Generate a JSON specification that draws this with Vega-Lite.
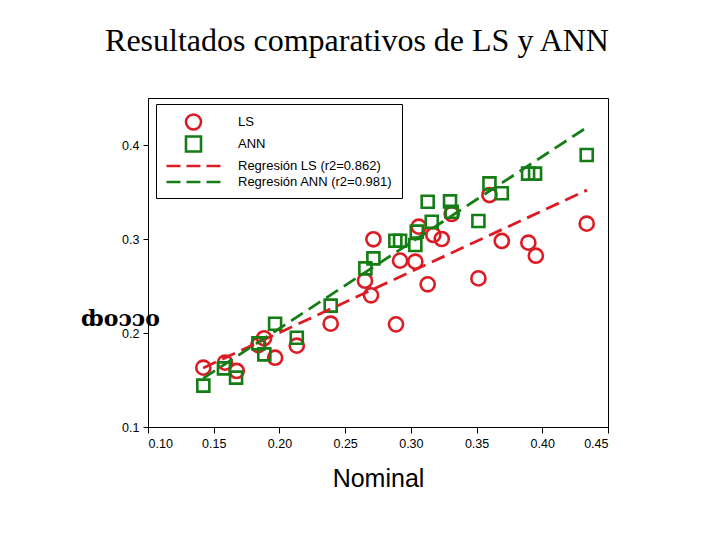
{
  "$schema": "https://vega.github.io/schema/vega-lite/v6.json",
  "width": 460,
  "height": 329,
  "autosize": "none",
  "padding": {"left": 148, "top": 98, "right": 112, "bottom": 113},
  "background": "white",
  "title": {
    "text": "Resultados comparativos de LS y ANN",
    "font": "Liberation Serif",
    "fontSize": 32,
    "fontWeight": "normal",
    "color": "black",
    "anchor": "middle",
    "dx": -21,
    "baseline": "alphabetic",
    "offset": 15
  },
  "config": {
    "view": {"stroke": "black", "strokeWidth": 1},
    "axis": {
      "grid": false,
      "domainColor": "black",
      "tickColor": "black",
      "labelColor": "black",
      "titleColor": "black",
      "labelFont": "Liberation Sans",
      "titleFont": "Liberation Sans",
      "labelFontSize": 12.5,
      "tickSize": 6
    }
  },
  "datasets": {
    "puntos": [
      {"serie": "LS", "nominal": 0.1421, "estimado": 0.1631},
      {"serie": "LS", "nominal": 0.1586, "estimado": 0.1684},
      {"serie": "LS", "nominal": 0.1675, "estimado": 0.1596},
      {"serie": "LS", "nominal": 0.1840, "estimado": 0.1872},
      {"serie": "LS", "nominal": 0.1883, "estimado": 0.1944},
      {"serie": "LS", "nominal": 0.1967, "estimado": 0.1737},
      {"serie": "LS", "nominal": 0.2132, "estimado": 0.1865},
      {"serie": "LS", "nominal": 0.2390, "estimado": 0.2099},
      {"serie": "LS", "nominal": 0.2651, "estimado": 0.2556},
      {"serie": "LS", "nominal": 0.2697, "estimado": 0.2401},
      {"serie": "LS", "nominal": 0.2715, "estimado": 0.2997},
      {"serie": "LS", "nominal": 0.2887, "estimado": 0.2092},
      {"serie": "LS", "nominal": 0.2918, "estimado": 0.2770},
      {"serie": "LS", "nominal": 0.3034, "estimado": 0.2759},
      {"serie": "LS", "nominal": 0.3060, "estimado": 0.3131},
      {"serie": "LS", "nominal": 0.3128, "estimado": 0.2518},
      {"serie": "LS", "nominal": 0.3171, "estimado": 0.3043},
      {"serie": "LS", "nominal": 0.3235, "estimado": 0.3000},
      {"serie": "LS", "nominal": 0.3311, "estimado": 0.3266},
      {"serie": "LS", "nominal": 0.3514, "estimado": 0.2581},
      {"serie": "LS", "nominal": 0.3598, "estimado": 0.3468},
      {"serie": "LS", "nominal": 0.3692, "estimado": 0.2979},
      {"serie": "LS", "nominal": 0.3894, "estimado": 0.2961},
      {"serie": "LS", "nominal": 0.3951, "estimado": 0.2822},
      {"serie": "LS", "nominal": 0.4338, "estimado": 0.3163},
      {"serie": "ANN", "nominal": 0.1421, "estimado": 0.1440},
      {"serie": "ANN", "nominal": 0.1578, "estimado": 0.1624},
      {"serie": "ANN", "nominal": 0.1670, "estimado": 0.1525},
      {"serie": "ANN", "nominal": 0.1840, "estimado": 0.1890},
      {"serie": "ANN", "nominal": 0.1885, "estimado": 0.1773},
      {"serie": "ANN", "nominal": 0.1967, "estimado": 0.2099},
      {"serie": "ANN", "nominal": 0.2132, "estimado": 0.1950},
      {"serie": "ANN", "nominal": 0.2390, "estimado": 0.2291},
      {"serie": "ANN", "nominal": 0.2654, "estimado": 0.2688},
      {"serie": "ANN", "nominal": 0.2715, "estimado": 0.2794},
      {"serie": "ANN", "nominal": 0.2882, "estimado": 0.2982},
      {"serie": "ANN", "nominal": 0.2918, "estimado": 0.2982},
      {"serie": "ANN", "nominal": 0.3034, "estimado": 0.2936},
      {"serie": "ANN", "nominal": 0.3045, "estimado": 0.3078},
      {"serie": "ANN", "nominal": 0.3128, "estimado": 0.3397},
      {"serie": "ANN", "nominal": 0.3159, "estimado": 0.3184},
      {"serie": "ANN", "nominal": 0.3298, "estimado": 0.3400},
      {"serie": "ANN", "nominal": 0.3311, "estimado": 0.3290},
      {"serie": "ANN", "nominal": 0.3514, "estimado": 0.3191},
      {"serie": "ANN", "nominal": 0.3598, "estimado": 0.3592},
      {"serie": "ANN", "nominal": 0.3692, "estimado": 0.3486},
      {"serie": "ANN", "nominal": 0.3892, "estimado": 0.3695},
      {"serie": "ANN", "nominal": 0.3945, "estimado": 0.3695},
      {"serie": "ANN", "nominal": 0.4338, "estimado": 0.3894}
    ],
    "rectas": [
      {"serie": "Regresión LS (r2=0.862)", "nominal": 0.142, "estimado": 0.1628},
      {"serie": "Regresión LS (r2=0.862)", "nominal": 0.434, "estimado": 0.3520},
      {"serie": "Regresión ANN (r2=0.981)", "nominal": 0.142, "estimado": 0.1518},
      {"serie": "Regresión ANN (r2=0.981)", "nominal": 0.434, "estimado": 0.4188}
    ]
  },
  "encoding": {
    "x": {
      "field": "nominal",
      "type": "quantitative",
      "scale": {"domain": [0.1, 0.45], "nice": false, "zero": false},
      "axis": {
        "values": [0.1, 0.15, 0.2, 0.25, 0.3, 0.35, 0.4, 0.45],
        "format": ".2f",
        "labelPadding": 4,
        "title": "Nominal",
        "titleFontSize": 25,
        "titleFontWeight": "normal",
        "titlePadding": 17
      }
    },
    "y": {
      "field": "estimado",
      "type": "quantitative",
      "scale": {"domain": [0.1, 0.45], "nice": false, "zero": false},
      "axis": {
        "values": [0.1, 0.2, 0.3, 0.4],
        "format": ".1f",
        "tickSize": 5,
        "labelPadding": 4,
        "title": "ȸoɔɔo",
        "titleFont": "DejaVu Serif",
        "titleFontSize": 22,
        "titleFontWeight": "bold",
        "titleAngle": 0,
        "titleAlign": "center",
        "titleBaseline": "middle",
        "titleX": -28,
        "titleY": 220
      }
    },
    "color": {
      "field": "serie",
      "type": "nominal",
      "scale": {
        "domain": ["LS", "ANN", "Regresión LS (r2=0.862)", "Regresión ANN (r2=0.981)"],
        "range": ["#dc1c24", "#157d15", "#dc1c24", "#157d15"]
      },
      "legend": {
        "title": null,
        "orient": "none",
        "legendX": 8,
        "legendY": 6,
        "padding": 9,
        "strokeColor": "black",
        "fillColor": "white",
        "symbolSize": 225,
        "symbolStrokeWidth": 2.6,
        "symbolOffset": 19.5,
        "labelOffset": 35.5,
        "labelFont": "Liberation Sans",
        "labelFontSize": 13,
        "labelColor": "black",
        "labelLimit": 300,
        "rowPadding": -4
      }
    },
    "shape": {
      "field": "serie",
      "type": "nominal",
      "scale": {
        "domain": ["LS", "ANN", "Regresión LS (r2=0.862)", "Regresión ANN (r2=0.981)"],
        "range": ["circle", "square", "M-3.6,0H-1.73M-0.93,0H0.93M1.73,0H3.6", "M-3.6,0H-1.73M-0.93,0H0.93M1.73,0H3.6"]
      }
    }
  },
  "layer": [
    {
      "data": {"name": "puntos"},
      "transform": [{"filter": "datum.serie === 'LS'"}],
      "mark": {"type": "point", "filled": false, "size": 200, "strokeWidth": 2.6, "opacity": 1}
    },
    {
      "data": {"name": "puntos"},
      "transform": [{"filter": "datum.serie === 'ANN'"}],
      "mark": {"type": "point", "filled": false, "size": 144, "strokeWidth": 2.6, "opacity": 1}
    },
    {
      "data": {"name": "rectas"},
      "mark": {"type": "line", "strokeDash": [14, 7], "strokeWidth": 2.8},
      "encoding": {"shape": null}
    }
  ]
}
